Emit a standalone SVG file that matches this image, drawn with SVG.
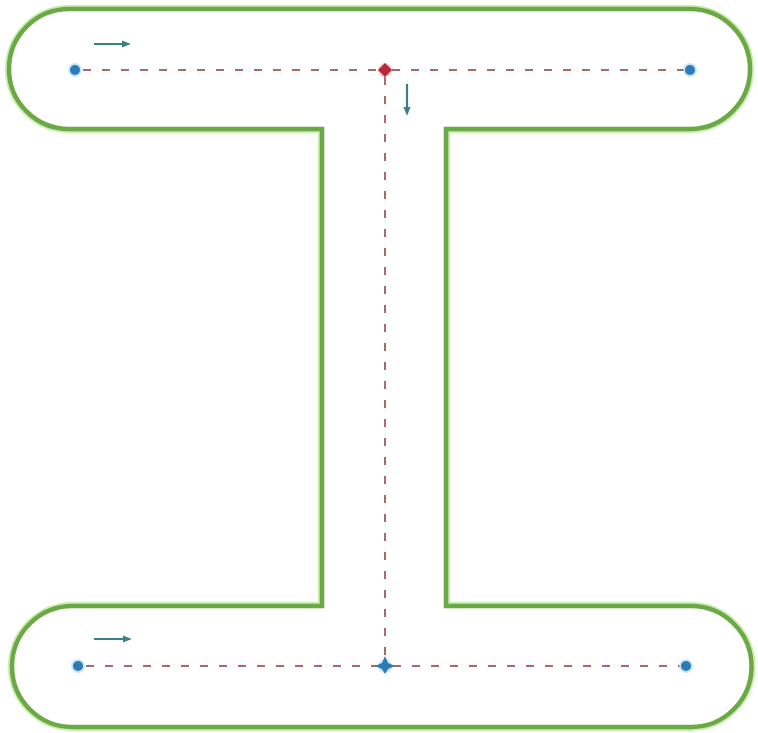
<svg xmlns="http://www.w3.org/2000/svg" width="758" height="733" viewBox="0 0 758 733">
  <defs>
    <style>
      .outline { fill: #ffffff; stroke: #6aa944; stroke-width: 4.5; stroke-linejoin: miter; }
      .halo { fill: none; stroke: #c9ecb0; stroke-width: 8; }
      .dash { fill: none; stroke: #a56a6a; stroke-width: 2; stroke-dasharray: 8 11; }
      .dot { fill: #2b7bb5; }
      .dothalo { fill: #a9d4f0; opacity: 0.6; }
      .arrow { fill: none; stroke: #3b7e88; stroke-width: 2.2; marker-end: url(#ah); }
    </style>
    <marker id="ah" viewBox="0 0 10 10" refX="8" refY="5" markerWidth="4" markerHeight="4" orient="auto">
      <path d="M0,1 L10,5 L0,9 Z" fill="#3b7e88"/>
    </marker>
  </defs>
  <rect width="758" height="733" fill="#ffffff"/>
  <g id="beam">
    <path class="halo" d="M69 9 H690 A60 60 0 0 1 690 129 H446 V606 H691 A60.5 60.5 0 0 1 691 727 H72.5 A60.5 60.5 0 0 1 72.5 606 H322 V129 H69 A60 60 0 0 1 69 9 Z"/>
    <path class="outline" d="M69 9 H690 A60 60 0 0 1 690 129 H446 V606 H691 A60.5 60.5 0 0 1 691 727 H72.5 A60.5 60.5 0 0 1 72.5 606 H322 V129 H69 A60 60 0 0 1 69 9 Z"/>
  </g>
  <g id="connectors">
    <line class="dash" x1="83" y1="70" x2="378" y2="70"/>
    <line class="dash" x1="392" y1="70" x2="684" y2="70"/>
    <line class="dash" x1="385" y1="77" x2="385" y2="657"/>
    <line class="dash" x1="86" y1="666" x2="377" y2="666"/>
    <line class="dash" x1="393" y1="666" x2="680" y2="666"/>
    <line class="arrow" x1="94" y1="44" x2="129" y2="44"/>
    <line class="arrow" x1="407" y1="84" x2="407" y2="114"/>
    <line class="arrow" x1="94" y1="639" x2="130" y2="639"/>
  </g>
  <g id="node-top-left"><circle class="dothalo" cx="75" cy="70" r="7"/><circle class="dot" cx="75" cy="70" r="5"/></g>
  <g id="node-top-center"><circle cx="385" cy="70" r="7" fill="#f0b0b8" opacity="0.6"/><path d="M385 63 L392 70 L385 77 L378 70 Z" fill="#b8283c"/></g>
  <g id="node-top-right"><circle class="dothalo" cx="690" cy="70" r="7"/><circle class="dot" cx="690" cy="70" r="5"/></g>
  <g id="node-bottom-left"><circle class="dothalo" cx="78" cy="666" r="7"/><circle class="dot" cx="78" cy="666" r="5"/></g>
  <g id="node-bottom-center"><circle class="dothalo" cx="385" cy="666" r="7"/><path d="M385 656 L388 663 L395 666 L388 669 L385 674 L382 669 L375 666 L382 663 Z" fill="#2b7bb5"/></g>
  <g id="node-bottom-right"><circle class="dothalo" cx="686" cy="666" r="7"/><circle class="dot" cx="686" cy="666" r="5"/></g>
</svg>
